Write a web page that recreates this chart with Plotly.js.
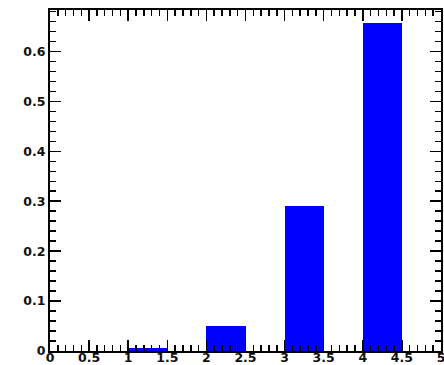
<!DOCTYPE html>
<html>
<head>
<meta charset="utf-8">
<script src="https://cdn.plot.ly/plotly-3.0.1.min.js"></script>
<style>html,body{margin:0;padding:0;background:#fff;}#chart{width:444px;height:365px;}</style>
</head>
<body>
<div id="chart"></div>
<script>
const binStarts = [1, 2, 3, 4];
const values = [0.006, 0.05, 0.291, 0.657];

const tickFont = {family: '"DejaVu Sans", sans-serif', size: 12.5, color: '#111', weight: 'bold'};

const trace = {
  type: 'bar',
  x: binStarts,
  y: values,
  width: 0.5,
  offset: 0,
  marker: {color: '#0000ff', line: {width: 0}},
  hoverinfo: 'none'
};

const axisCommon = {
  showline: true, linecolor: '#000', linewidth: 2,
  mirror: 'allticks', ticks: 'inside', ticklen: 11, tickwidth: 1.5, tickcolor: '#000',
  showgrid: false, zeroline: false, tickfont: tickFont
};

const layout = {
  width: 444, height: 365,
  margin: {l: 50, r: 3, t: 10, b: 14},
  paper_bgcolor: '#fff', plot_bgcolor: '#fff',
  showlegend: false,
  bargap: 0,
  xaxis: Object.assign({}, axisCommon, {
    range: [0, 5], tick0: 0, dtick: 0.5, ticklabelstandoff: -6, ticklabeloverflow: 'allow',
    minor: {dtick: 0.1, ticks: 'inside', ticklen: 6, tickwidth: 1.5, tickcolor: '#000'}
  }),
  yaxis: Object.assign({}, axisCommon, {
    range: [0, 0.683], tick0: 0, dtick: 0.1,
    minor: {dtick: 0.02, ticks: 'inside', ticklen: 6, tickwidth: 1.5, tickcolor: '#000'}
  })
};

Plotly.newPlot('chart', [trace], layout, {displayModeBar: false, staticPlot: true});
</script>
</body>
</html>
